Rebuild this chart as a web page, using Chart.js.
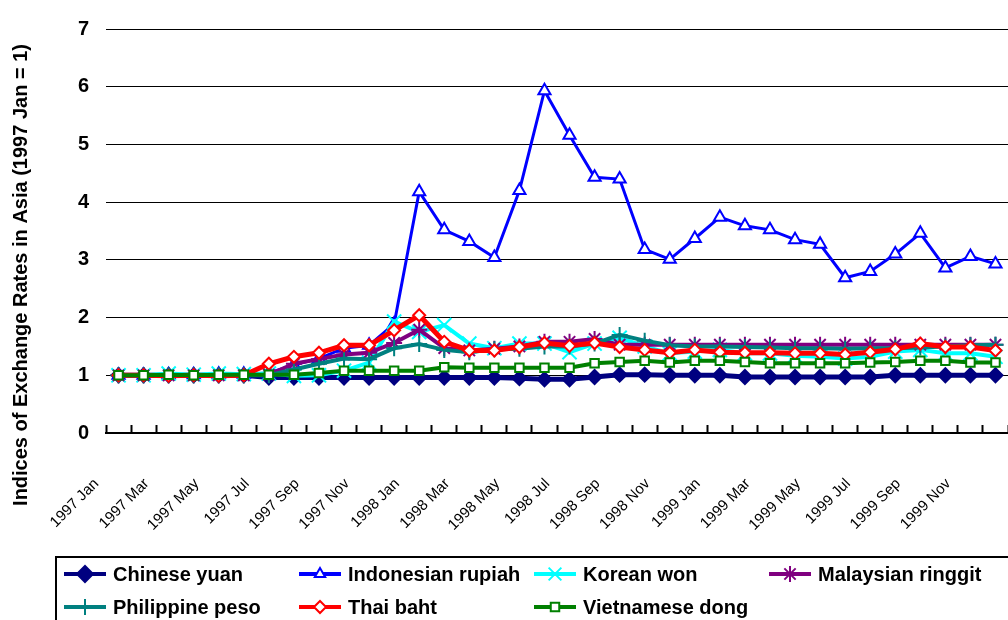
<!DOCTYPE html>
<html lang="en">
<head>
  <meta charset="UTF-8">
  <title>Exchange Rates in Asia</title>
  <script src="https://cdn.jsdelivr.net/npm/chart.js"></script>
  <style>
    html, body { margin: 0; padding: 0; overflow: hidden; background: #fff; }
    #wrap { width: 1020px; height: 640px; }
  </style>
</head>
<body>
  <div id="wrap"><canvas id="grafico" width="1020" height="640"></canvas></div>

  <script>
    const months = [
      '1997 Jan', '1997 Feb', '1997 Mar', '1997 Apr', '1997 May', '1997 Jun',
      '1997 Jul', '1997 Aug', '1997 Sep', '1997 Oct', '1997 Nov', '1997 Dec',
      '1998 Jan', '1998 Feb', '1998 Mar', '1998 Apr', '1998 May', '1998 Jun',
      '1998 Jul', '1998 Aug', '1998 Sep', '1998 Oct', '1998 Nov', '1998 Dec',
      '1999 Jan', '1999 Feb', '1999 Mar', '1999 Apr', '1999 May', '1999 Jun',
      '1999 Jul', '1999 Aug', '1999 Sep', '1999 Oct', '1999 Nov', '1999 Dec'
    ];
    const yTicks = [0, 1, 2, 3, 4, 5, 6, 7];
    const yTitle = 'Indices of Exchange Rates in Asia (1997 Jan = 1)';

    const chineseYuan = [1, 1, 1, 1, 1, 1, 0.96, 0.96, 0.96, 0.96, 0.96, 0.96,
      0.96, 0.96, 0.96, 0.96, 0.95, 0.93, 0.93, 0.97, 1.01, 1.01, 1.0, 1.0,
      1.0, 0.97, 0.97, 0.97, 0.97, 0.97, 0.97, 1.0, 1.0, 1.0, 1.0, 1.0];
    const indonesianRupiah = [1, 1, 1.01, 1.01, 1.02, 1.02, 1.04, 1.18, 1.29, 1.47, 1.52, 1.89,
      4.18, 3.52, 3.32, 3.04, 4.2, 5.93, 5.16, 4.43, 4.4, 3.18, 3.01, 3.37,
      3.74, 3.59, 3.52, 3.35, 3.27, 2.69, 2.8, 3.1, 3.46, 2.86, 3.06, 2.93];
    const koreanWon = [1, 1, 1.03, 1.01, 1.03, 1.02, 1.03, 0.99, 1.0, 1.08, 1.22, 1.93,
      1.75, 1.87, 1.55, 1.47, 1.55, 1.55, 1.4, 1.55, 1.65, 1.5, 1.38, 1.41,
      1.44, 1.38, 1.38, 1.34, 1.32, 1.29, 1.32, 1.41, 1.44, 1.38, 1.38, 1.32];
    const malaysianRinggit = [1, 1, 1, 1, 1, 1, 1.01, 1.2, 1.28, 1.36, 1.39, 1.56,
      1.79, 1.47, 1.43, 1.46, 1.5, 1.58, 1.58, 1.63, 1.53, 1.53, 1.53, 1.53,
      1.53, 1.53, 1.53, 1.53, 1.53, 1.53, 1.53, 1.53, 1.53, 1.53, 1.53, 1.53];
    const philippinePeso = [1, 1, 1, 1, 1, 1, 1.0, 1.1, 1.2, 1.29, 1.28, 1.47,
      1.54, 1.44, 1.4, 1.45, 1.46, 1.5, 1.5, 1.55, 1.7, 1.6, 1.52, 1.5,
      1.5, 1.49, 1.48, 1.47, 1.47, 1.46, 1.47, 1.47, 1.48, 1.5, 1.52, 1.53];
    const thaiBaht = [1, 1, 0.99, 1, 0.99, 1, 1.2, 1.32, 1.39, 1.52, 1.52, 1.78,
      2.04, 1.58, 1.43, 1.43, 1.49, 1.56, 1.51, 1.56, 1.49, 1.44, 1.39, 1.44,
      1.4, 1.39, 1.39, 1.38, 1.38, 1.36, 1.4, 1.45, 1.55, 1.49, 1.49, 1.43];
    const vietnameseDong = [1, 1, 1.01, 1, 1.01, 1.01, 1.01, 1.01, 1.04, 1.08, 1.08, 1.08,
      1.08, 1.14, 1.13, 1.13, 1.13, 1.13, 1.13, 1.21, 1.23, 1.25, 1.22, 1.25,
      1.25, 1.23, 1.21, 1.21, 1.21, 1.21, 1.22, 1.23, 1.25, 1.25, 1.22, 1.22];

    const fonte = 'Arial, "Liberation Sans", sans-serif';

    function serie(label, data, cor, estilo, raio, fundo, legRaio, ordem, larg) {
      return {
        label, data,
        borderColor: cor,
        borderWidth: larg,
        pointStyle: estilo,
        pointRadius: raio,
        pointBackgroundColor: fundo,
        pointBorderColor: cor,
        pointBorderWidth: 2,
        legendRadius: legRaio,
        tension: 0,
        order: ordem
      };
    }

    // titulo do eixo y, centrado na area com rotulos (como no Excel)
    const tituloY = {
      id: 'tituloY',
      afterDraw(chart) {
        const ctx = chart.ctx;
        ctx.save();
        ctx.translate(21, 275);
        ctx.rotate(-Math.PI / 2);
        ctx.font = 'bold 20px ' + fonte;
        ctx.fillStyle = '#000';
        ctx.textAlign = 'center';
        ctx.textBaseline = 'middle';
        ctx.fillText(yTitle, 0, 0);
        ctx.restore();
      }
    };

    // legenda em caixa com 4 colunas
    const legendaCaixa = {
      id: 'legendaCaixa',
      afterDraw(chart) {
        const ctx = chart.ctx;
        const colX = [64, 299, 534, 769];
        const rowY = [574, 607];
        ctx.save();
        ctx.lineWidth = 2;
        ctx.strokeStyle = '#000';
        ctx.strokeRect(56, 557, 960, 80);
        chart.data.datasets.forEach((ds, i) => {
          const x = colX[i % 4], y = rowY[Math.floor(i / 4)];
          ctx.strokeStyle = ds.borderColor;
          ctx.lineWidth = 4;
          ctx.beginPath();
          ctx.moveTo(x, y);
          ctx.lineTo(x + 42, y);
          ctx.stroke();
          ctx.fillStyle = ds.pointBackgroundColor;
          ctx.strokeStyle = ds.pointBorderColor;
          ctx.lineWidth = 2;
          Chart.helpers.drawPoint(ctx, { pointStyle: ds.pointStyle, radius: ds.legendRadius, rotation: 0, borderWidth: 2 }, x + 21, y);
          ctx.fillStyle = '#000';
          ctx.font = 'bold 20px ' + fonte;
          ctx.textAlign = 'left';
          ctx.textBaseline = 'middle';
          ctx.fillText(ds.label, x + 49, y + 1);
        });
        ctx.restore();
      }
    };

    new Chart(document.getElementById('grafico'), {
      type: 'line',
      data: {
        labels: months,
        datasets: [
          serie('Chinese yuan', chineseYuan, '#000080', 'rectRot', 7, '#000080', 8, 6, 5),
          serie('Indonesian rupiah', indonesianRupiah, '#0000ff', 'triangle', 7, '#ffffff', 6, 5, 3),
          serie('Korean won', koreanWon, '#00ffff', 'crossRot', 10, '#00ffff', 9, 4, 4),
          serie('Malaysian ringgit', malaysianRinggit, '#800080', 'star', 8, '#800080', 8, 3, 4),
          serie('Philippine peso', philippinePeso, '#008080', 'cross', 8, '#008080', 8, 2, 4),
          serie('Thai baht', thaiBaht, '#ff0000', 'rectRot', 6, '#ffffff', 6, 1, 5),
          serie('Vietnamese dong', vietnameseDong, '#008000', 'rect', 6, '#ffffff', 6, 0, 4)
        ]
      },
      options: {
        responsive: false,
        animation: false,
        layout: { padding: { top: 20, bottom: 87, left: 0, right: 0 } },
        plugins: {
          legend: { display: false },
          tooltip: { enabled: false }
        },
        scales: {
          x: {
            offset: true,
            afterFit: s => { s.height = 120; s.paddingLeft = 0; s.paddingRight = 0; },
            border: { color: '#000', width: 2 },
            grid: { offset: true, drawOnChartArea: false, tickLength: -8, tickWidth: 2, tickColor: '#000' },
            ticks: {
              autoSkip: false,
              maxRotation: 45,
              minRotation: 45,
              padding: 50,
              labelOffset: -22,
              color: '#000',
              font: { family: fonte, size: 15 },
              callback: (v, i) => (i % 2 === 0 ? months[i] : '')
            }
          },
          y: {
            min: 0,
            max: 7,
            afterFit: s => { s.width = 106; },
            afterBuildTicks: s => { s.ticks = yTicks.map(v => ({ value: v })); },
            border: { display: false },
            grid: { color: '#000', lineWidth: 1, drawTicks: false },
            ticks: {
              padding: 17,
              color: '#000',
              font: { family: fonte, size: 20, weight: 'bold' }
            }
          }
        }
      },
      plugins: [tituloY, legendaCaixa]
    });
  </script>
</body>
</html>
